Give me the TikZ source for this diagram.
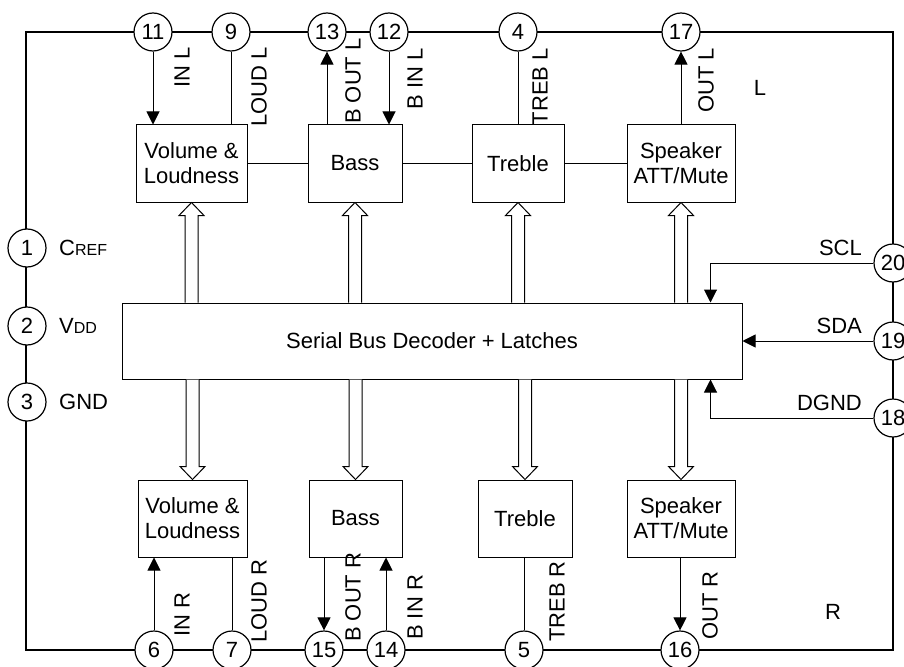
\documentclass[tikz,border=0pt]{standalone}
\usepackage{fontspec}
\setmainfont{Liberation Sans}
\usetikzlibrary{arrows.meta,calc}

\newcommand\busarrow[2]{%
  \draw[bus] let \p1=(#1), \p2=(#2), \p3=($(#2)!13pt!(#1)$) in
    (\x1-6.5pt,\y1) -- (\x1-6.5pt,\y3) -- (\x1-12.5pt,\y3) -- (\x2,\y2)
    -- (\x1+12.5pt,\y3) -- (\x1+6.5pt,\y3) -- (\x1+6.5pt,\y1);}

\begin{document}
\begin{tikzpicture}[x=1pt,y=-1pt,font=\fontsize{22}{25}\selectfont,
    box/.style={draw,line width=1pt,align=center,inner sep=0pt,minimum height=77pt},
    pin/.style={draw,circle,fill=white,line width=1.2pt,minimum size=38pt,inner sep=0pt},
    lbl/.style={inner sep=0pt},
    vlbl/.style={inner sep=0pt,rotate=90},
    sig/.style={line width=1pt},
    arr/.style={sig,-{Triangle[length=13pt,width=13pt]}},
    bus/.style={draw,fill=white,line width=1pt}]
  \useasboundingbox (0,0) rectangle (904,666);
  \draw[line width=2.2pt] (26,32) rectangle (893,650);

  \foreach \n/\x/\y in {11/153/32,9/231/32,13/327/32,12/389/32,4/518/32,17/681/32,
      1/27/248,2/27/326,3/27/402,20/893/263,19/893/341,18/893/418,
      6/154/650,7/232/650,15/324/650,14/386/650,5/524/650,16/680/650}
    \node[pin] (p\n) at (\x,\y) {\n};

  % left channel
  \node[box,minimum width=111pt] (vl) at (191.5,163.5) {Volume \&\\Loudness};
  \node[box,minimum width=94pt] (bl) at (355,163.5) {Bass};
  \node[box,minimum width=92pt] (tl) at (518,163.5) {Treble};
  \node[box,minimum width=108pt] (sl) at (681,163.5) {Speaker\\ATT/Mute};
  % right channel
  \node[box,minimum width=109pt] (vr) at (192.5,518.5) {Volume \&\\Loudness};
  \node[box,minimum width=93pt] (br) at (355.5,518.5) {Bass};
  \node[box,minimum width=94pt] (tr) at (525,518.5) {Treble};
  \node[box,minimum width=108pt] (sr) at (681,518.5) {Speaker\\ATT/Mute};

  \node[box,minimum width=620pt,minimum height=76pt] (dec) at (432,341)
    {Serial Bus Decoder + Latches};

  \draw[sig] (vl) -- (bl);
  \draw[sig] (bl) -- (tl);
  \draw[sig] (tl) -- (sl);

  \draw[arr] (p11) -- (p11 |- vl.north);
  \draw[sig] (p9) -- (p9 |- vl.north);
  \draw[arr] (p13 |- bl.north) -- (p13);
  \draw[arr] (p12) -- (p12 |- bl.north);
  \draw[sig] (p4) -- (p4 |- tl.north);
  \draw[arr] (p17 |- sl.north) -- (p17);

  \draw[arr] (p6) -- (p6 |- vr.south);
  \draw[sig] (p7) -- (p7 |- vr.south);
  \draw[arr] (p15 |- br.south) -- (p15);
  \draw[arr] (p14) -- (p14 |- br.south);
  \draw[sig] (p5) -- (p5 |- tr.south);
  \draw[arr] (p16 |- sr.south) -- (p16);

  \draw[arr] (p20) -| ([xshift=-32pt]dec.north east);
  \draw[arr] (p19) -- (p19 -| dec.east);
  \draw[arr] (p18) -| ([xshift=-32pt]dec.south east);

  \busarrow{dec.north -| vl}{vl.south}
  \busarrow{dec.north -| bl}{bl.south}
  \busarrow{dec.north -| tl}{tl.south}
  \busarrow{dec.north -| sl}{sl.south}
  \busarrow{dec.south -| vr}{vr.north}
  \busarrow{dec.south -| br}{br.north}
  \busarrow{dec.south -| tr}{tr.north}
  \busarrow{dec.south -| sr}{sr.north}

  \node[vlbl,anchor=east] (inl) at (182,47) {IN L};
  \node[vlbl,anchor=east] (loudl) at (259,47) {LOUD L};
  \node[vlbl,anchor=east] (boutl) at (353,38) {B OUT L};
  \node[vlbl,anchor=east] (binl) at (415,48) {B IN L};
  \node[vlbl,anchor=east] (trebl) at (540,48) {TREB L};
  \node[vlbl,anchor=east] (outl) at (706,48) {OUT L};
  \node[lbl] (chl) at (760,88) {L};

  \node[vlbl,anchor=west] (inr) at (182,637) {IN R};
  \node[vlbl,anchor=west] (loudr) at (259,643) {LOUD R};
  \node[vlbl,anchor=west] (boutr) at (353,642) {B OUT R};
  \node[vlbl,anchor=west] (binr) at (415,640) {B IN R};
  \node[vlbl,anchor=west] (trebr) at (557,642) {TREB R};
  \node[vlbl,anchor=west] (outr) at (710,640) {OUT R};
  \node[lbl] (chr) at (833,612) {R};

  \node[lbl,anchor=west] (cref) at (59,248) {C{\fontsize{16}{18}\selectfont REF}};
  \node[lbl,anchor=west] (vdd) at (59,326) {V{\fontsize{16}{18}\selectfont DD}};
  \node[lbl,anchor=west] (gnd) at (59,402) {GND};
  \node[lbl,anchor=east] (scl) at (862,248) {SCL};
  \node[lbl,anchor=east] (sda) at (862,326) {SDA};
  \node[lbl,anchor=east] (dgnd) at (862,403) {DGND};
\end{tikzpicture}
\end{document}
